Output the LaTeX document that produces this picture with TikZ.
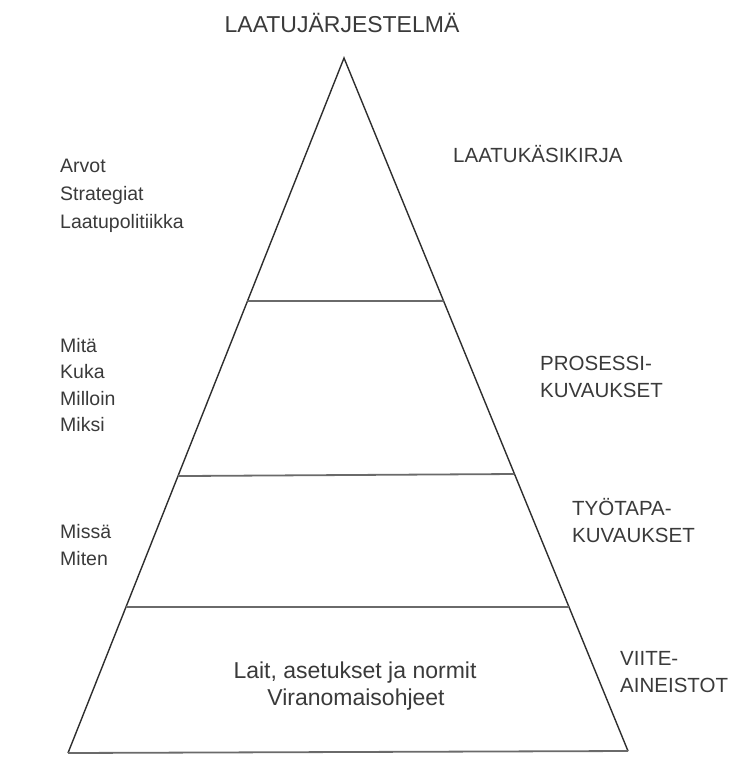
\documentclass[tikz,border=0pt]{standalone}
\usepackage{fontspec}
\setmainfont{Liberation Sans}
\usetikzlibrary{calc}
\definecolor{ink}{HTML}{3A3A3A}
\definecolor{edge}{HTML}{2E2E2E}
\definecolor{tier}{HTML}{6A6A6A}
\tikzset{
  side/.style={draw=edge, line width=1.4pt, line join=miter},
  tierline/.style={draw=tier, line width=1.8pt},
  lbl/.style={inner sep=0pt, text=ink, anchor=base west},
  lbltitle/.style={inner sep=0pt, text=ink, anchor=base, font=\fontsize{23}{27}\selectfont},
  lblleft/.style={lbl, font=\fontsize{19.5}{26}\selectfont},
  lblright/.style={lbl, font=\fontsize{20.5}{26}\selectfont},
  lblbase/.style={inner sep=0pt, text=ink, anchor=base, font=\fontsize{23}{27}\selectfont},
}
\begin{document}
\begin{tikzpicture}[x=1pt, y=-1pt]
  \useasboundingbox (0,0) rectangle (731,767);

  % pyramid corners
  \coordinate (apex) at (344,58);
  \coordinate (bl) at (68,753);
  \coordinate (br) at (628,751);

  % tier boundaries on the two sides
  \coordinate (l1) at ($(apex)!0.3497!(bl)$);
  \coordinate (r1) at ($(apex)!0.3505!(br)$);
  \coordinate (l2) at ($(apex)!0.6015!(bl)$);
  \coordinate (r2) at ($(apex)!0.6003!(br)$);
  \coordinate (l3) at ($(apex)!0.7899!(bl)$);
  \coordinate (r3) at ($(apex)!0.7922!(br)$);

  % outline
  \draw[side] (bl) -- (apex) -- (br);
  \draw[tierline] (bl) -- (br);
  \draw[tierline] (l1) -- (r1);
  \draw[tierline] (l2) -- (r2);
  \draw[tierline] (l3) -- (r3);

  % title
  \node[lbltitle] (title) at (342,33) {LAATUJÄRJESTELMÄ};

  % left-hand notes
  \node[lblleft] (arvot) at (60,173) {Arvot};
  \node[lblleft] (strat) at (60,200.5) {Strategiat};
  \node[lblleft] (lpol) at (60,228) {Laatupolitiikka};

  \node[lblleft] (mita) at (60,352) {Mitä};
  \node[lblleft] (kuka) at (60,378.5) {Kuka};
  \node[lblleft] (milloin) at (60,405) {Milloin};
  \node[lblleft] (miksi) at (60,431.5) {Miksi};

  \node[lblleft] (missa) at (60,538) {Missä};
  \node[lblleft] (miten) at (60,565) {Miten};

  % right-hand level names
  \node[lblright] (lkk) at (453,163) {LAATUKÄSIKIRJA};
  \node[lblright] (pros1) at (540,370) {PROSESSI-};
  \node[lblright] (pros2) at (540,397) {KUVAUKSET};
  \node[lblright] (tyo1) at (572,515) {TYÖTAPA-};
  \node[lblright] (tyo2) at (572,542) {KUVAUKSET};
  \node[lblright] (viite1) at (620,665) {VIITE-};
  \node[lblright] (viite2) at (620,692) {AINEISTOT};

  % base tier contents
  \node[lblbase] (lait) at (355,678) {Lait, asetukset ja normit};
  \node[lblbase] (viran) at (356,705) {Viranomaisohjeet};
\end{tikzpicture}
\end{document}
